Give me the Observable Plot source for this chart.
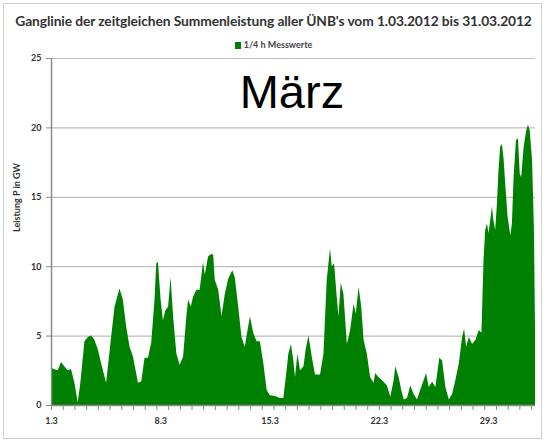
<!DOCTYPE html>
<html>
<head>
<meta charset="utf-8">
<script src="https://cdn.jsdelivr.net/npm/d3@7"></script>
<script src="https://cdn.jsdelivr.net/npm/@observablehq/plot@0.6"></script>
<style>
  html, body { margin: 0; padding: 0; background: #fff; }
  #wrap { position: relative; width: 547px; height: 444px; overflow: hidden; font-family: Lato, "Open Sans", sans-serif; }
  #frame { position: absolute; left: 3px; top: 3px; width: 539px; height: 436px; border: 1px solid #cfcfcf; box-sizing: border-box; pointer-events: none; }
  #title { position: absolute; left: 0; top: 12px; width: 547px; text-align: center; font-size: 13.8px; font-weight: 700; color: #333; letter-spacing: -0.1px; }
  #legend { position: absolute; left: 0; top: 39px; width: 547px; text-align: center; font-size: 9px; font-weight: 700; color: #444; }
  #legend .sw { display: inline-block; width: 6px; height: 7px; background: #008000; margin-right: 3px; vertical-align: -1px; }
  #chart { position: absolute; left: 0; top: 52px; }
</style>
</head>
<body>
<div id="wrap">
  <div id="title"></div>
  <div id="legend"><span class="sw"></span><span id="legtext"></span></div>
  <div id="chart"></div>
  <div id="frame"></div>
</div>
<script>
const titleText = "Ganglinie der zeitgleichen Summenleistung aller ÜNB's vom 1.03.2012 bis 31.03.2012";
const seriesName = "1/4 h Messwerte";
const yLabel = "Leistung P in GW";
const monthLabel = "März";
const yTicks = [0, 5, 10, 15, 20, 25];
const xTickDays = [1, 8, 15, 22, 29];
const xTickLabels = ["1.3", "8.3", "15.3", "22.3", "29.3"];

// time in days (1 = 1 March 00:00), power in GW
const days = [1.00,1.17,1.43,1.64,1.85,2.07,2.28,2.50,2.71,2.88,3.14,3.36,3.57,3.78,4.00,4.21,4.53,4.85,5.07,5.24,5.39,5.60,5.82,6.03,6.25,6.57,6.78,6.99,7.21,7.42,7.63,7.74,7.85,8.02,8.17,8.32,8.50,8.66,8.82,9.03,9.24,9.46,9.67,9.78,9.95,10.10,10.31,10.52,10.74,10.85,11.06,11.28,11.39,11.49,11.71,11.92,12.13,12.35,12.61,12.77,12.99,13.20,13.41,13.59,13.74,13.95,14.17,14.38,14.60,14.81,15.02,15.34,15.66,15.88,16.09,16.20,16.37,16.52,16.63,16.78,16.95,17.17,17.31,17.49,17.70,17.91,18.23,18.45,18.66,18.87,18.98,19.13,19.30,19.41,19.56,19.73,19.95,20.16,20.38,20.52,20.70,20.87,21.02,21.23,21.44,21.66,21.76,21.98,22.19,22.52,22.73,22.95,23.05,23.27,23.43,23.59,23.80,24.01,24.23,24.44,24.65,24.87,25.02,25.19,25.41,25.62,25.87,26.05,26.26,26.48,26.69,26.90,27.12,27.33,27.46,27.59,27.76,27.97,28.19,28.40,28.57,28.70,28.81,28.92,29.02,29.13,29.24,29.34,29.45,29.56,29.66,29.77,29.88,29.99,30.09,30.24,30.42,30.52,30.63,30.78,30.91,31.02,31.12,31.27,31.44,31.55,31.66,31.81,31.93,32.00];
const power = [2.7,2.6,2.5,3.1,2.8,2.5,2.6,1.6,0.2,1.6,4.6,4.9,5.0,4.7,4.0,3.0,1.6,4.9,7.1,7.8,8.4,7.6,5.6,4.2,3.5,1.6,1.7,3.4,3.4,4.5,7.6,10.2,10.3,7.6,6.1,6.8,7.1,9.2,6.4,3.7,2.9,3.5,6.4,7.6,7.1,7.8,8.3,8.3,10.3,9.4,10.7,10.9,10.8,9.0,8.3,6.4,8.0,9.1,9.7,9.2,7.1,4.9,4.2,5.4,6.4,5.2,4.6,4.6,3.0,1.1,0.7,0.65,0.5,0.5,2.5,3.7,4.4,3.2,2.0,3.7,2.5,2.8,4.0,5.0,3.5,2.2,2.2,3.7,9.0,11.3,10.0,10.2,7.8,6.4,8.8,8.0,4.4,5.4,7.3,6.6,8.5,7.1,4.7,3.7,2.0,1.6,2.3,2.0,1.8,1.4,0.6,1.8,2.8,2.0,1.1,0.4,0.5,1.4,0.8,0.4,1.1,1.8,2.3,1.3,1.7,1.3,3.4,3.2,1.3,0.4,0.8,1.8,3.0,4.9,5.5,4.2,4.9,4.4,4.7,5.4,5.2,10.4,12.6,13.1,12.4,13.3,14.3,13.3,12.6,14.5,16.9,18.6,18.8,17.7,16.0,13.6,12.2,13.1,16.4,19.1,19.2,16.7,16.4,18.6,19.8,20.2,19.8,17.7,12.8,5.6];

const data = days.map((d, i) => ({day: d, gw: power[i]}));

document.getElementById("title").textContent = titleText;
document.getElementById("legtext").textContent = seriesName;

const minorTicks = d3.range(1, 32.01, 0.75);

const plot = Plot.plot({
  width: 547,
  height: 392,
  marginTop: 6,
  marginBottom: 39,
  marginLeft: 51,
  marginRight: 12,
  style: {fontFamily: "Lato, 'Open Sans', sans-serif", fontSize: "9px", color: "#333", background: "transparent"},
  x: {domain: [1, 32]},
  y: {domain: [0, 25]},
  marks: [
    Plot.gridY(yTicks.filter(t => t > 0), {stroke: "#bdbdbd", strokeOpacity: 1, strokeWidth: 1.2}),
    Plot.areaY(data, {x: "day", y: "gw", fill: "#008000", curve: "linear"}),
    Plot.ruleX([1], {stroke: "#8c8c8c", strokeWidth: 1.5}),
    Plot.ruleY([0], {stroke: "#8c8c8c", strokeWidth: 1.5}),
    Plot.axisY({ticks: yTicks, tickSize: 5, tickPadding: 5, stroke: "#8c8c8c", fill: "#333", fontWeight: "bold", label: null}),
    Plot.axisX({ticks: minorTicks, tickSize: 5, tickFormat: () => "", stroke: "#8c8c8c", label: null}),
    Plot.axisX({ticks: xTickDays, tickSize: 0, tickPadding: 12, tickFormat: (d) => xTickLabels[xTickDays.indexOf(d)], fill: "#333", fontWeight: "bold", label: null}),
    Plot.text([yLabel], {frameAnchor: "left", dx: -34, rotate: -90, fontSize: 9, fontWeight: "bold", fill: "#333"}),
    Plot.text([monthLabel], {x: [16.4], y: [22.5], fontSize: 47, fill: "#000", fontFamily: "'Liberation Sans', Arial, sans-serif", lineAnchor: "middle"})
  ]
});
document.getElementById("chart").appendChild(plot);
</script>
</body>
</html>
